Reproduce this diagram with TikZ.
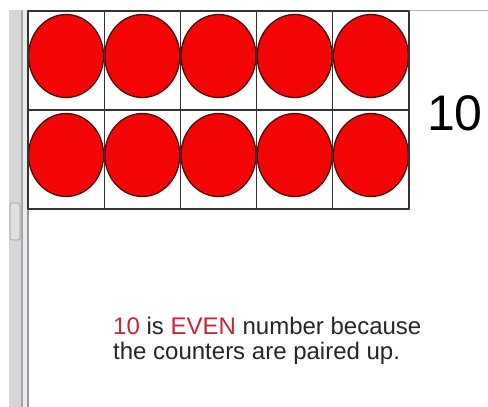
\documentclass[tikz,border=0pt]{standalone}
\usepackage{fontspec}
\setmainfont{Liberation Sans}
\usetikzlibrary{shapes.geometric}
\definecolor{counterred}{RGB}{245,6,6}
\definecolor{counteredge}{RGB}{80,8,8}
\definecolor{wordred}{RGB}{196,40,52}
\definecolor{barGrey}{RGB}{214,214,216}
\definecolor{barLine}{RGB}{150,150,165}
\begin{document}
\begin{tikzpicture}[x=1pt,y=-1pt,line cap=round,line join=round,every node/.style={inner sep=0pt},
  counter/.style={ellipse,draw=counteredge,line width=1.3pt,fill=counterred,minimum width=75pt,minimum height=83pt},
  cellline/.style={draw=black!80,line width=1.3pt}]
  \useasboundingbox[fill=white] (0,0) rectangle (488,407);
  \def\cw{76.2}
  \def\ch{99}
  \fill[barGrey] (9,10) rectangle (21,407);
  \fill[black!35] (21,10) rectangle (23,407);
  \fill[blue!4!black!8] (23,10) rectangle (27,407);
  \fill[barLine] (27,10) rectangle (29,407);
  \draw[black!30,line width=0.6pt] (409,10.5) -- (488,10.5);
  \draw[black!40,fill=black!12,rounded corners=2pt,line width=0.6pt] (10,203) rectangle (20,240);
  \foreach \r in {0,1}
    \foreach \c in {0,...,4}
      \node[counter] (ctr-\r-\c) at ({28+\cw*(\c+0.5)},{11+45+\r*99}) {};
  \foreach \c in {0,...,5}
    \draw[cellline] ({28+\cw*\c},11) -- ({28+\cw*\c},209);
  \foreach \r in {0,1,2}
    \draw[cellline] (28,{11+\ch*\r}) -- (409,{11+\ch*\r});
  \node[anchor=base,font=\fontsize{50}{50}\selectfont] (total) at (455,130) {10};
  \node[anchor=base west,font=\fontsize{24}{26}\selectfont,text=black!85] (lineA) at (113,334)
    {\textcolor{wordred}{10} is \textcolor{wordred}{EVEN} number because};
  \node[anchor=base west,font=\fontsize{24}{26}\selectfont,text=black!85] (lineB) at (113,359)
    {the counters are paired up.};
\end{tikzpicture}
\end{document}
